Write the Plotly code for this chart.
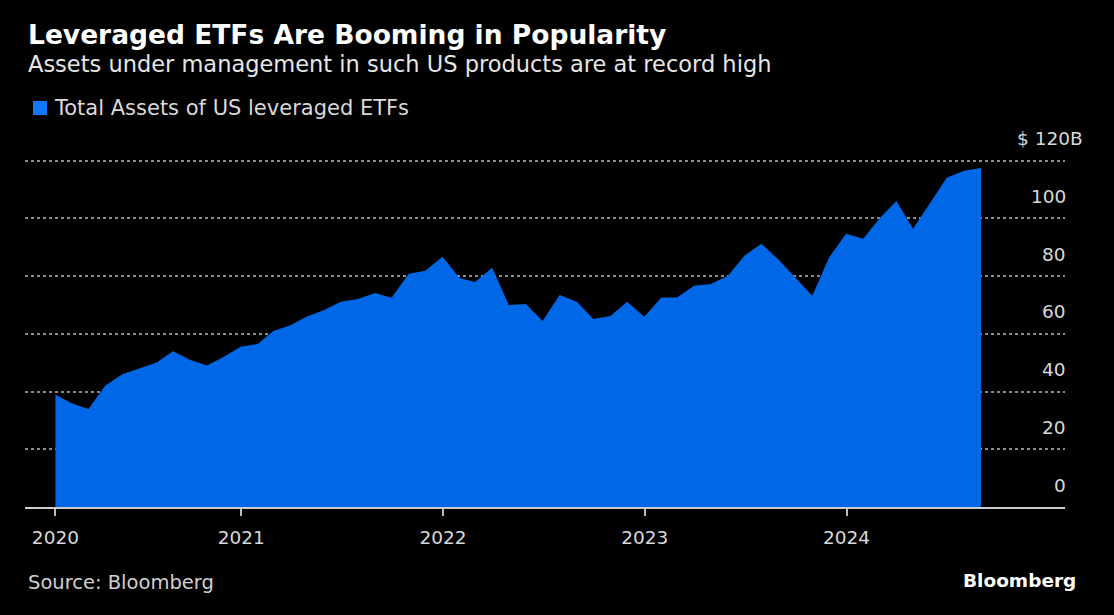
import pandas as pd
import plotly.graph_objects as go

# 每月末美国杠杆ETF总资产（十亿美元）
months = pd.date_range("2020-01-31", "2024-08-31", freq="ME")
assets = [
    39, 36, 34, 42, 46, 48, 50, 54, 51, 49, 52, 55.5,
    56.5, 61, 63, 66, 68.3, 71.1, 72.1, 74.2, 72.5, 80.8, 81.9, 86.7,
    79.4, 78, 82.9, 70, 70.4, 64.5, 73.5, 71.1, 65.2, 66.2, 71.1, 65.9,
    72.6, 72.6, 76.7, 77.3, 80.1, 87.1, 91.2, 85.7, 79.4, 73.2, 86.4, 94.7,
    93, 99.9, 106.1, 96.4, 105.4, 114.1, 116.5, 117.5,
]

x_tick_vals = ["2020-01-31", "2021-01-01", "2022-01-01", "2023-01-01", "2024-01-01"]
x_tick_text = ["2020", "2021", "2022", "2023", "2024"]
y_tick_vals = [0, 20, 40, 60, 80, 100, 120]
y_tick_text = ["0", "20", "40", "60", "80", "100", "$ 120B"]

BLUE = "#0068e6"
FONT = "DejaVu Sans"

W, H = 1114, 615
L, R, T, B = 25, 49, 155, 108
PW, PH = W - L - R, H - T - B


def px(x):
    return (x - L) / PW


def py(y):
    return (H - B - y) / PH


fig = go.Figure()
fig.add_trace(go.Scatter(
    x=months, y=assets,
    mode="lines", line=dict(width=0, color=BLUE),
    fill="tozeroy", fillcolor=BLUE,
    name="Total Assets of US leveraged ETFs",
    showlegend=False, hoverinfo="skip",
))

annotations = [
    dict(text="<b>Leveraged ETFs Are Booming in Popularity</b>", x=px(26), y=py(34),
         xanchor="left", yanchor="middle", font=dict(size=26.5, color="white", family=FONT)),
    dict(text="Assets under management in such US products are at record high", x=px(26), y=py(64),
         xanchor="left", yanchor="middle", font=dict(size=22.5, color="#e6e6e6", family=FONT)),
    dict(text="Total Assets of US leveraged ETFs", x=px(52), y=py(108),
         xanchor="left", yanchor="middle", font=dict(size=21, color="#d9d9d9", family=FONT)),
    dict(text="Source: Bloomberg", x=px(26), y=py(582),
         xanchor="left", yanchor="middle", font=dict(size=19.5, color="#cfcfcf", family=FONT)),
    dict(text="<b>Bloomberg</b>", x=px(1078), y=py(580),
         xanchor="right", yanchor="middle", font=dict(size=18.5, color="white", family=FONT)),
]
for v, t in zip(y_tick_vals, y_tick_text):
    annotations.append(dict(
        text=t, x=px(1085) if v == 120 else px(1068), xref="paper", y=v, yref="y",
        xanchor="right", yanchor="middle", yshift=22, showarrow=False,
        font=dict(size=18.5, color="#d9d9d9", family=FONT),
    ))
for a in annotations:
    a.setdefault("xref", "paper")
    a.setdefault("yref", "paper")
    a.setdefault("showarrow", False)

fig.update_layout(
    width=W, height=H,
    margin=dict(l=L, r=R, t=T, b=B),
    paper_bgcolor="black", plot_bgcolor="black",
    showlegend=False,
    annotations=annotations,
    shapes=[dict(type="rect", xref="paper", yref="paper",
                 x0=px(33), x1=px(47), y0=py(101), y1=py(115),
                 fillcolor="#1177ff", line=dict(width=0))],
    xaxis=dict(
        type="date", range=["2019-12-07", "2025-01-30"],
        tickvals=x_tick_vals, ticktext=x_tick_text,
        ticks="outside", ticklen=7, tickwidth=1.5, tickcolor="#bbbbbb",
        ticklabelstandoff=6,
        showline=True, linecolor="#cccccc", linewidth=1.5,
        showgrid=False, zeroline=False, layer="below traces",
        tickfont=dict(size=18.5, color="#d9d9d9", family=FONT),
    ),
    yaxis=dict(
        range=[0, 122], tickvals=y_tick_vals[1:], showticklabels=False,
        showgrid=True, gridcolor="#8a8a8a", gridwidth=1.5, griddash="dot",
        zeroline=False, showline=False,
    ),
)

fig.write_html("out.html", config={"displayModeBar": False},
               post_script="document.body.style.margin='0';")
